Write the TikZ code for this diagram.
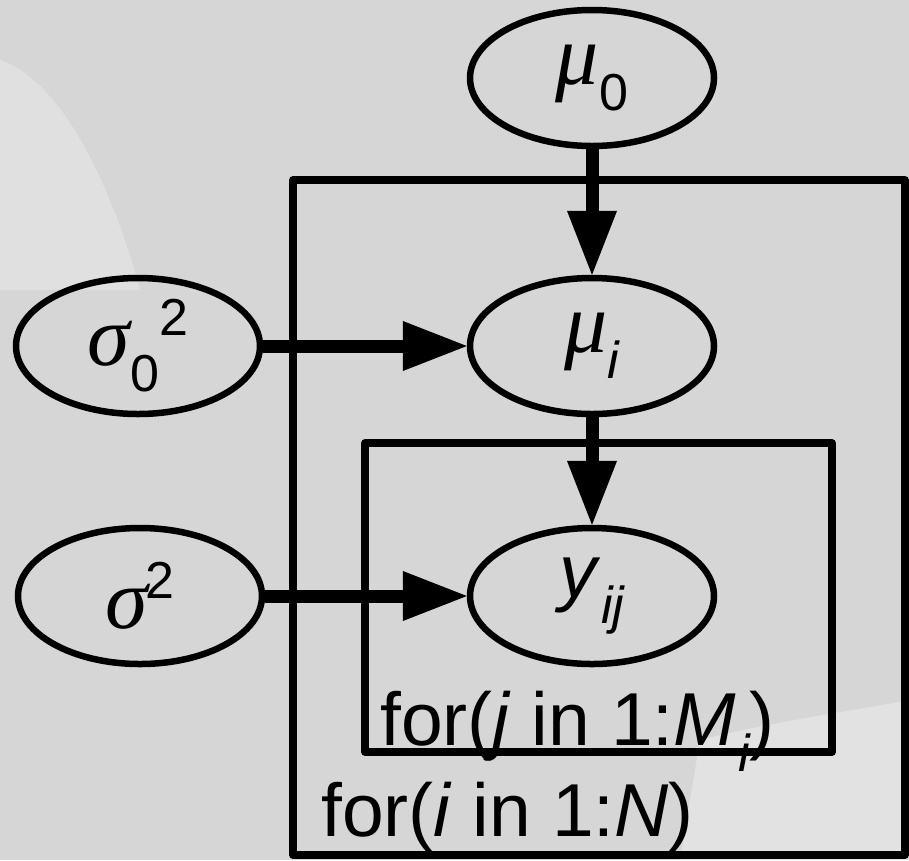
\documentclass[tikz,border=0pt]{standalone}
\usepackage{fontspec}
\setmainfont{Liberation Sans}
\newfontfamily\grk{Liberation Serif}
\usetikzlibrary{shapes.geometric,arrows.meta}
\newcommand{\MyBig}{\fontsize{75}{75}\selectfont}
\newcommand{\MyGrk}{\fontsize{86}{86}\selectfont\grk\itshape}
\newcommand{\MySm}{\fontsize{52}{52}\selectfont}
\newcommand{\MyLo}[1]{\raisebox{-26pt}{\MySm #1}}
\newcommand{\MyHi}[1]{\raisebox{30pt}{\MySm #1}}
\begin{document}
\begin{tikzpicture}[x=1pt,y=-1pt,
  ell/.style={draw=black,line width=6.5pt,ellipse,minimum width=244pt,minimum height=136pt,inner sep=0pt},
  plate/.style={draw=black,line width=7.5pt,line join=round},
  arr/.style={line width=13pt,-{Triangle[length=66pt,width=46pt]},shorten >=-2pt},
  lbl/.style={anchor=base west,inner sep=0pt,font=\MyBig}]
\useasboundingbox (0,0) rectangle (909,860);
\fill[black!16] (0,0) rectangle (909,860);
% subtle lighter areas of the background
\fill[white,opacity=0.25] (0,60) .. controls (60,80) and (110,180) .. (140,290) -- (0,290) -- cycle;
\fill[white,opacity=0.3] (700,740) .. controls (780,720) and (860,710) .. (909,700) -- (909,860) -- (680,860) -- cycle;
% plates
\draw[plate] (293,180) rectangle (905,855);
\draw[plate] (365,443) rectangle (832,752);
% nodes
\node[ell] (mu0) at (592,78) {{\MyGrk μ}\MyLo{0}};
\node[ell] (mui) at (592,346) {{\MyGrk μ}\MyLo{\itshape i}};
\node[ell] (s0) at (138,346) {{\MyGrk σ}\kern1pt\MyLo{0}\MyHi{2}};
\node[ell] (yij) at (592,596) {{\MyBig\itshape y}\kern4pt\MyLo{\itshape ij}};
\node[ell] (s2) at (140,596) {{\MyGrk σ}\kern-2pt\MyHi{2}};
% labels
\node[lbl] (forj) at (380,745) {for(\textit{j} in 1:\textit{M}\kern2pt\MyLo{\itshape i})};
\node[lbl] (fori) at (321,836) {for(\textit{i} in 1:\textit{N})};
% arrows
\draw[arr] (mu0) -- (mui);
\draw[arr] (mui) -- (yij);
\draw[arr] (s0) -- (mui);
\draw[arr] (s2) -- (yij);
\end{tikzpicture}
\end{document}
